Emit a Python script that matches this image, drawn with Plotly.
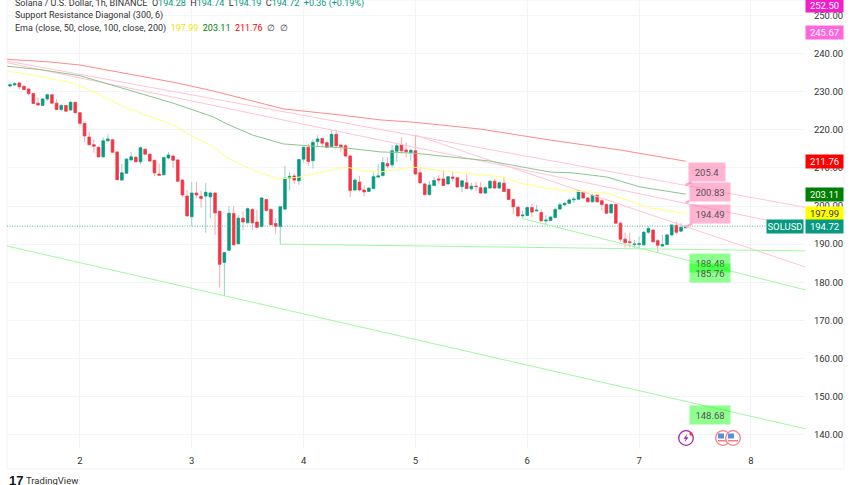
import plotly.graph_objects as go

# prix horaires SOL/USD (barres 0 a 145)
opens = [
    231.5, 231.8, 232.3, 231.4, 230.7, 229.5, 227.0, 226.4, 228.1, 229.2,
    227.0, 225.3, 226.4, 225.2, 227.2, 224.5, 221.7, 218.1, 216.1, 215.4,
    212.9, 217.1, 217.4, 214.2, 206.8, 208.6, 212.1, 212.8, 211.6, 214.9,
    213.6, 212.0, 208.4, 208.2, 212.6, 213.1, 212.1, 206.8, 202.6, 197.2,
    203.4, 202.5, 202.6, 202.4, 203.4, 198.6, 185.2, 188.4, 198.0, 190.1,
    196.8, 195.6, 199.1, 195.8, 194.6, 201.7, 199.1, 195.4, 194.6, 199.2,
    207.3, 207.9, 206.6, 212.3, 215.4, 211.9, 216.9, 217.7, 216.6, 215.6,
    218.8, 216.0, 215.8, 213.1, 204.2, 206.3, 204.2, 203.8, 204.6, 207.6,
    208.0, 211.1, 210.8, 214.4, 216.0, 214.7, 214.0, 214.5, 208.7, 205.8,
    203.0, 205.4, 207.1, 207.1, 205.8, 207.6, 207.4, 205.1, 206.1, 204.5,
    205.2, 204.8, 203.4, 204.7, 206.5, 204.7, 206.0, 204.4, 201.7, 199.7,
    197.4, 197.5, 199.6, 198.7, 198.3, 196.1, 196.2, 197.0, 199.2, 200.3,
    200.7, 201.6, 201.8, 203.8, 202.1, 201.1, 202.8, 201.4, 200.4, 198.2,
    200.4, 195.5, 191.3, 190.6, 189.9, 189.9, 189.8, 193.1, 193.7, 190.9,
    189.5, 189.9, 192.4, 194.9, 193.4, 194.28,
]
highs = [
    232.4, 232.6, 232.4, 231.7, 230.9, 229.5, 228.5, 228.3, 229.5, 229.2,
    228.1, 226.7, 226.5, 227.6, 227.3, 224.6, 221.7, 219.4, 217.5, 215.8,
    218.0, 218.8, 217.5, 214.2, 211.0, 212.6, 214.1, 213.1, 215.7, 215.1,
    213.7, 212.1, 211.2, 212.9, 214.2, 213.5, 212.1, 207.0, 204.2, 206.4,
    206.4, 204.0, 206.0, 203.8, 203.5, 198.8, 187.8, 200.0, 200.0, 197.6,
    198.5, 199.6, 199.4, 198.9, 202.4, 201.8, 199.3, 196.8, 200.0, 210.5,
    209.0, 208.6, 212.2, 215.6, 216.3, 217.5, 218.6, 217.8, 217.1, 219.8,
    220.0, 216.4, 216.3, 213.5, 207.3, 207.9, 205.4, 204.9, 208.8, 211.0,
    212.8, 212.8, 216.0, 216.6, 218.0, 216.6, 215.1, 218.6, 210.3, 206.0,
    206.6, 207.7, 208.1, 209.4, 207.9, 209.0, 207.5, 206.6, 208.3, 206.1,
    206.3, 206.3, 205.2, 206.8, 207.1, 206.5, 207.7, 204.5, 201.9, 200.0,
    198.8, 200.0, 200.5, 200.3, 199.1, 197.6, 197.4, 199.6, 200.9, 201.1,
    202.0, 202.4, 204.2, 204.0, 202.3, 203.2, 203.0, 201.8, 200.7, 200.6,
    200.5, 195.9, 193.0, 193.0, 191.1, 192.0, 193.4, 194.8, 193.8, 191.3,
    192.4, 192.6, 195.2, 195.9, 195.5, 194.74,
]
lows = [
    231.1, 231.5, 230.6, 230.3, 229.0, 226.8, 226.4, 226.2, 227.6, 226.8,
    225.2, 224.9, 224.9, 225.0, 224.4, 221.0, 216.8, 215.9, 214.0, 212.8,
    212.7, 217.1, 214.0, 206.8, 206.6, 208.4, 211.6, 211.5, 210.9, 213.5,
    211.6, 207.8, 208.1, 208.1, 212.2, 210.0, 206.4, 202.4, 197.2, 194.7,
    202.0, 199.6, 193.0, 196.8, 192.4, 178.6, 176.4, 188.2, 189.8, 190.0,
    193.7, 195.4, 193.7, 194.3, 194.4, 198.5, 194.9, 192.8, 190.0, 198.8,
    204.0, 205.8, 205.5, 211.4, 210.5, 209.8, 215.6, 215.7, 215.2, 215.6,
    215.6, 214.1, 212.9, 202.4, 204.0, 203.8, 202.6, 203.7, 204.4, 207.5,
    207.7, 209.9, 210.1, 211.6, 213.8, 212.8, 211.9, 208.2, 205.8, 202.8,
    202.6, 205.2, 205.8, 205.3, 205.6, 206.5, 204.9, 203.6, 204.4, 204.0,
    204.0, 203.3, 203.1, 204.6, 204.6, 204.5, 203.7, 201.6, 197.9, 197.0,
    196.7, 197.4, 197.2, 198.6, 195.9, 195.0, 196.0, 196.7, 198.9, 200.0,
    200.5, 200.7, 201.6, 201.9, 201.0, 201.0, 201.0, 198.8, 198.1, 198.0,
    195.3, 190.6, 189.1, 189.1, 188.8, 188.7, 189.5, 192.7, 190.5, 187.8,
    189.3, 189.7, 192.2, 192.6, 193.3, 194.19,
]
closes = [
    231.8, 232.1, 231.3, 230.6, 229.5, 226.9, 226.5, 228.1, 229.2, 227.0,
    225.3, 226.4, 224.9, 227.2, 224.5, 221.7, 218.4, 216.1, 215.7, 212.9,
    217.1, 217.6, 214.1, 206.9, 208.7, 212.3, 212.9, 211.6, 215.3, 213.6,
    211.8, 208.7, 208.1, 212.7, 213.4, 212.0, 206.5, 202.9, 197.4, 203.4,
    202.9, 202.0, 203.6, 203.4, 198.2, 184.7, 187.8, 198.1, 189.8, 196.8,
    195.8, 199.3, 195.6, 194.4, 202.1, 198.8, 195.1, 194.7, 199.8, 207.3,
    207.8, 206.8, 212.2, 215.4, 211.7, 216.7, 217.6, 216.5, 215.4, 218.8,
    215.8, 215.6, 213.1, 204.1, 206.8, 204.2, 203.7, 204.7, 207.7, 207.9,
    211.4, 210.5, 214.5, 215.8, 214.5, 214.3, 214.6, 208.4, 206.1, 203.0,
    205.5, 206.7, 206.8, 205.4, 207.7, 207.3, 205.0, 206.6, 204.6, 205.2,
    205.1, 203.4, 204.8, 206.5, 204.7, 206.1, 203.8, 201.7, 199.8, 197.4,
    197.6, 199.6, 198.4, 198.9, 196.1, 196.3, 197.1, 199.1, 200.3, 200.7,
    201.6, 201.8, 204.0, 202.1, 201.1, 202.8, 201.1, 200.4, 198.1, 200.4,
    195.5, 191.3, 190.4, 190.4, 190.0, 190.1, 193.1, 194.1, 190.6, 189.7,
    189.9, 192.4, 195.0, 193.1, 194.4, 194.72,
]

# moyennes mobiles
ema50_x = [-0.6, 4.9, 12.9, 15.7, 20.8, 24.3, 35, 38.6, 43.6, 46.6, 50.9, 53.6, 57.9, 62.2,
           68.7, 72.3, 75.8, 79.4, 86.5, 92.9, 105.8, 109.4, 115.9, 120.8, 128.1, 133, 137.3, 145]
ema50_y = [235.4, 234.4, 232.4, 231.2, 228.3, 226.1, 221.3, 218.6, 215.7, 212.6, 210.2, 208.7, 207.1, 207.6,
           209.4, 210.2, 209.2, 208.9, 210.2, 209.2, 207.6, 206.0, 204.5, 203.9, 203.4, 201.3, 199.5, 197.99]
ema100_x = [-0.6, 7.1, 15, 24.3, 35, 43.6, 46.6, 52.1, 58.6, 65, 72.3, 79.4, 86.5, 103, 115.9, 120.8, 128.1, 135.2, 145]
ema100_y = [236.7, 235.7, 234.2, 230.9, 227.0, 223.4, 221.5, 218.6, 216.3, 215.7, 215.2, 214.2, 213.9, 211.8,
            208.9, 208.7, 207.6, 205.0, 203.11]
ema200_x = [-0.6, 8.6, 15, 22.1, 35, 43.6, 58.6, 70.8, 79.4, 86.5, 100.9, 115.9, 130.9, 145]
ema200_y = [238.5, 237.8, 237.0, 235.4, 232.5, 230.2, 225.5, 223.9, 222.6, 222.0, 220.2, 217.3, 214.7, 211.76]

# droites support / resistance : (x debut, prix debut, x fin, prix fin)
resistances = [(-0.64, 238.06, 170.6, 199.66), (-0.64, 237.6, 170.6, 194.2), (87, 218.6, 170.6, 184.0)]
supports = [(-0.64, 189.5, 170.6, 141.55), (58, 190.0, 170.6, 188.2), (110, 196.7, 170.6, 178.0)]

# etiquettes des droites : texte, prix de la pointe
resist_labels = [("205.4", 205.4), ("200.83", 200.83), ("194.49", 194.49)]
support_labels = [("188.48", 188.48), ("185.76", 185.76), ("148.68", 148.68)]

day_ticks = [15, 39, 63, 87, 111, 135, 159]
day_labels = ["2", "3", "4", "5", "6", "7", "8"]
price_ticks = list(range(140, 260, 10))

# etiquettes de l'axe des prix
price_tags = [
    ("252.50", 252.50, "#F01FC8", "white"),
    ("245.67", 245.67, "#FF66DD", "white"),
    ("211.76", 211.76, "#FF0000", "white"),
    ("203.11", 203.11, "#008000", "white"),
    ("197.99", 197.99, "#FFFF00", "#333333"),
    ("194.72", 194.72, "#089981", "white"),
]

ROUGE = "#F23645"
VERT = "#089981"
POLICE = "Roboto"

barres = list(range(len(opens)))


def px_x(p):
    return (p - 7) / 798


def px_y(p):
    return (448 - p) / 448


def cercle(cx, cy, r, **kw):
    return dict(type="circle", xref="paper", yref="paper", x0=px_x(cx - r), x1=px_x(cx + r),
                y0=px_y(cy + r), y1=px_y(cy - r), **kw)


def pave(x0, y0, x1, y1, couleur):
    return dict(type="rect", xref="paper", yref="paper", x0=px_x(x0), x1=px_x(x1),
                y0=px_y(y1), y1=px_y(y0), fillcolor=couleur, line_width=0)


def eclair(cx, cy):
    # petit eclair de l'icone d'evenement
    pts = [(1.5, -4.5), (-2.5, 0.8), (-0.2, 0.8), (-1.5, 4.5), (2.5, -0.8), (0.2, -0.8)]
    d = "M " + " L ".join(f"{px_x(cx + a):.5f},{px_y(cy + b):.5f}" for a, b in pts) + " Z"
    return dict(type="path", xref="paper", yref="paper", path=d, fillcolor="#9C27B0", line_width=0)


fig = go.Figure()

# meches claires puis corps pleins
fig.add_trace(go.Candlestick(
    x=barres, open=opens, high=highs, low=lows, close=closes, whiskerwidth=0,
    increasing=dict(line=dict(color="#93D3C8", width=1), fillcolor="#93D3C8"),
    decreasing=dict(line=dict(color="#FAA7AE", width=1), fillcolor="#FAA7AE"),
    hoverinfo="skip",
))
fig.add_trace(go.Candlestick(
    x=barres, open=opens, close=closes,
    high=[max(o, c) for o, c in zip(opens, closes)],
    low=[min(o, c) for o, c in zip(opens, closes)],
    whiskerwidth=0,
    increasing=dict(line=dict(color=VERT, width=0.5), fillcolor=VERT),
    decreasing=dict(line=dict(color=ROUGE, width=0.5), fillcolor=ROUGE),
    hoverinfo="skip",
))

# dernier prix en pointille
fig.add_trace(go.Scatter(x=[-0.64, 170.6], y=[closes[-1], closes[-1]], mode="lines",
                         line=dict(color="#4DB6A6", width=1, dash="1px,1.5px"), hoverinfo="skip"))

for x0, y0, x1, y1 in resistances:
    fig.add_trace(go.Scatter(x=[x0, x1], y=[y0, y1], mode="lines",
                             line=dict(color="#FFC4D6", width=1), hoverinfo="skip"))
for x0, y0, x1, y1 in supports:
    fig.add_trace(go.Scatter(x=[x0, x1], y=[y0, y1], mode="lines",
                             line=dict(color="#A0F8A0", width=1), hoverinfo="skip"))

fig.add_trace(go.Scatter(x=ema50_x, y=ema50_y, mode="lines", line=dict(color="#FFFF80", width=1), hoverinfo="skip"))
fig.add_trace(go.Scatter(x=ema100_x, y=ema100_y, mode="lines", line=dict(color="#8CC68C", width=1), hoverinfo="skip"))
fig.add_trace(go.Scatter(x=ema200_x, y=ema200_y, mode="lines", line=dict(color="#FF8A8A", width=1), hoverinfo="skip"))

annotations = []

# bulles des droites
for (texte, prix), largeur, ax, ay in zip(resist_labels, [34, 38, 38], [21, 24, 24], [-13, -11, -13]):
    annotations.append(dict(
        x=145, y=prix, text=texte, ax=ax, ay=ay, showarrow=True, arrowhead=0, arrowwidth=2.5,
        arrowcolor="#FFA8C8", bgcolor="rgba(255,105,165,0.5)", width=largeur, height=16,
        font=dict(family=POLICE, size=9.5, color="#555555"),
    ))
for (texte, prix), ax, ay in zip(support_labels, [24, 24, 24], [13, 13, 13]):
    annotations.append(dict(
        x=145, y=prix, text=texte, ax=ax, ay=ay, showarrow=True, arrowhead=0, arrowwidth=2.5,
        arrowcolor="#80F580", bgcolor="rgba(0,255,0,0.44)", width=38, height=16,
        font=dict(family=POLICE, size=9.5, color="#555555"),
    ))

# etiquettes a droite
for texte, prix, fond, encre in price_tags:
    annotations.append(dict(
        xref="paper", x=1, xanchor="left", y=prix, text=texte, showarrow=False, bgcolor=fond,
        width=35, height=11, font=dict(family=POLICE, size=9.5, color=encre),
    ))
annotations.append(dict(
    xref="paper", x=1, xanchor="right", xshift=-1, y=closes[-1], text="SOLUSD", showarrow=False, bgcolor=VERT,
    width=34, height=11, font=dict(family=POLICE, size=9.5, color="white"),
))

# legende en haut a gauche
gris = "#333333"
vert_txt = "#089981"
entete = [
    (3, "Solana / U.S. Dollar, 1h, BINANCE  O<span style='color:%s'>194.28</span>  H<span style='color:%s'>194.74</span>"
        "  L<span style='color:%s'>194.19</span>  C<span style='color:%s'>194.72  +0.36 (+0.19%%)</span>"
        % (vert_txt, vert_txt, vert_txt, vert_txt)),
    (15.5, "Support Resistance Diagonal (300, 6)"),
    (28, "Ema (close, 50, close, 100, close, 200)  <span style='color:#E8E800'>197.99</span>  "
         "<span style='color:#008000'>203.11</span>  <span style='color:#FF0000'>211.76</span>  ∅  ∅"),
]
for y_px, texte in entete:
    annotations.append(dict(
        xref="paper", yref="paper", x=px_x(13), y=px_y(y_px), xanchor="left", yanchor="middle",
        text=texte, showarrow=False, font=dict(family=POLICE, size=9, color=gris),
    ))

# logo
annotations.append(dict(
    xref="paper", yref="paper", x=px_x(7), y=px_y(481), xanchor="left", yanchor="middle",
    text="<b>17</b>", showarrow=False, font=dict(family="Liberation Sans", size=13, color="#131722"),
))
annotations.append(dict(
    xref="paper", yref="paper", x=px_x(24), y=px_y(481), xanchor="left", yanchor="middle",
    text="TradingView", showarrow=False, font=dict(family=POLICE, size=9.5, color="#333333"),
))

# icones d'evenements et cadre
formes = [
    dict(type="rect", xref="paper", yref="paper", x0=0, x1=px_x(844), y0=px_y(469), y1=1.0,
         line=dict(color="#F2F3F5", width=1), layer="below"),
    cercle(686, 438, 7.3, line=dict(color="#9C27B0", width=1.3), fillcolor="white"),
    cercle(691, 434, 1.7, line_width=0, fillcolor="#F23645"),
    eclair(686, 438),
]
for cx in (723, 733):
    formes += [
        cercle(cx, 438, 7.3, line=dict(color="#F77C80", width=1.3), fillcolor="white"),
        pave(cx - 5, 433.5, cx + 1, 438.5, "#5B8FD9"),
        pave(cx - 5, 440, cx + 5, 441.5, "#F77C80"),
    ]

fig.update_layout(
    width=852, height=485,
    margin=dict(l=7, r=47, t=0, b=37, autoexpand=False),
    paper_bgcolor="white", plot_bgcolor="white",
    showlegend=False, boxgap=0.2, hovermode=False,
    annotations=annotations, shapes=formes,
    font=dict(family=POLICE, size=9.5, color="#333333"),
    xaxis=dict(range=[-0.644, 170.6], tickvals=day_ticks, ticktext=day_labels, rangeslider=dict(visible=False),
               showgrid=True, gridcolor="#F3F4F6", zeroline=False, ticks="outside", ticklen=4, tickcolor="white",
               showline=False),
    yaxis=dict(range=[136.48, 254.07], side="right", tickvals=price_ticks, tickformat=".2f",
               showgrid=True, gridcolor="#F3F4F6", zeroline=False, ticks="outside", ticklen=6, tickcolor="white",
               showline=False),
)

fig.write_html("out.html", config={"displayModeBar": False},
               post_script="document.body.style.margin='0';document.body.style.overflow='hidden';")
